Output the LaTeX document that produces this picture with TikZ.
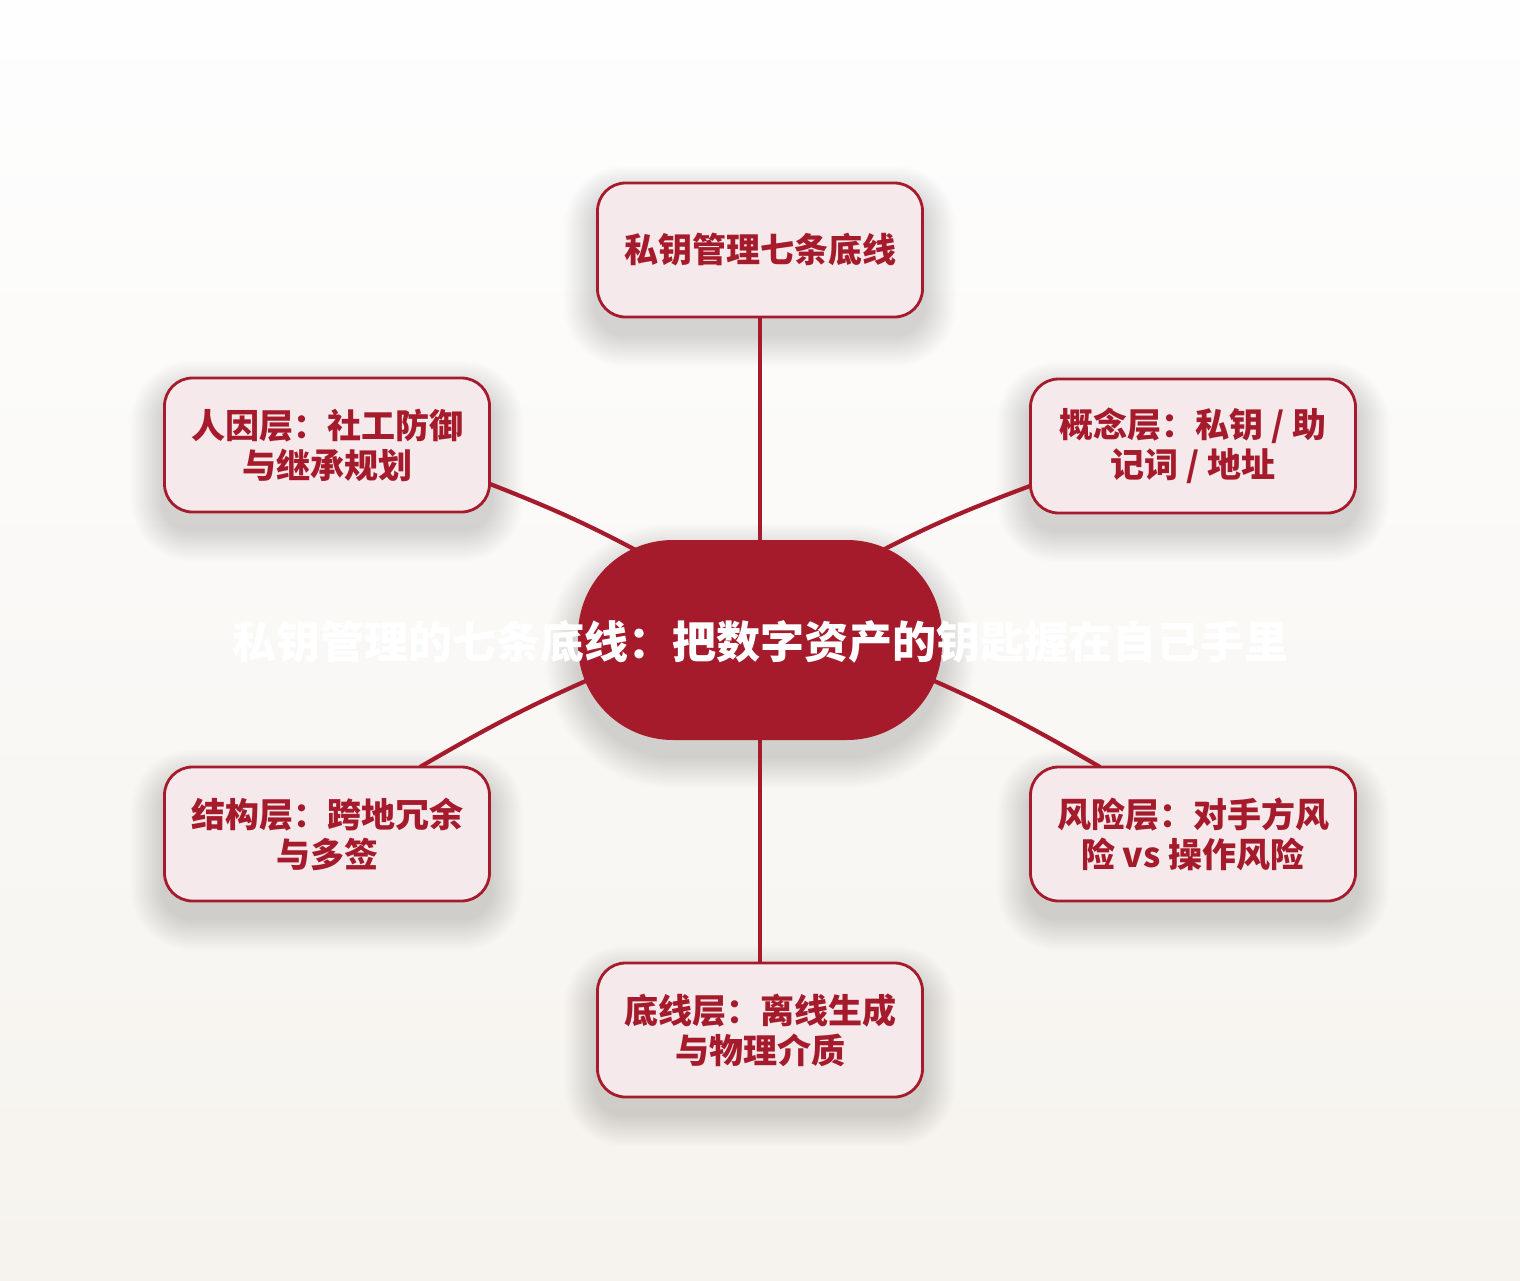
\documentclass[tikz,border=0pt]{standalone}
\usepackage{fontspec}
\newfontfamily\cjk{Noto Sans CJK SC}
\usetikzlibrary{calc}
\definecolor{deep}{HTML}{A51B2B}
\definecolor{pale}{HTML}{F5E9EC}
\definecolor{bgtop}{HTML}{FEFEFE}
\definecolor{bgbot}{HTML}{F6F3EE}
\pgfdeclarelayer{shad}\pgfdeclarelayer{lines}\pgfsetlayers{shad,lines,main}
\tikzset{
 leaf/.style={draw=deep, line width=2.8pt, fill=pale, rounded corners=28pt,
   minimum width=325pt, minimum height=134pt, inner sep=0pt, align=center,
   text=deep, font=\cjk\bfseries\fontsize{34pt}{40pt}\selectfont},
 hub/.style={fill=deep, rounded corners=95pt, minimum width=364pt,
   minimum height=200pt, inner sep=0pt},
 hubtext/.style={text=white, inner sep=0pt, font=\cjk\bfseries\fontsize{44pt}{50pt}\selectfont},
 link/.style={draw=deep, line width=4.2pt},
}
\newcommand\dropshade[2]{%
 \begin{pgfonlayer}{shad}
 \foreach \k in {1,...,20}{
   \fill[black, opacity=0.008, rounded corners={#2+\k*1.6pt}]
     ($(#1.south west)+(-\k*1.6pt,-\k*1.6pt-16pt)$) rectangle
     ($(#1.north east)+(\k*1.6pt,\k*1.6pt-16pt)$);
 }
 \end{pgfonlayer}}
\begin{document}
\begin{tikzpicture}[x=1pt,y=-1pt]
\useasboundingbox (0,0) rectangle (1520,1280);
\begin{pgfonlayer}{shad}
\shade[top color=bgtop, bottom color=bgbot] (0,0) rectangle (1520,1280);
\end{pgfonlayer}
\node[hub] (c) at (760,640) {};
\node[hubtext] (ct) at (760,642) {私钥管理的七条底线：把数字资产的钥匙握在自己手里};
\node[leaf] (t)  at (760,250)  {私钥管理七条底线};
\node[leaf] (tr) at (1193,446) {概念层：私钥 / 助\\记词 / 地址};
\node[leaf] (tl) at (327,445)  {人因层：社工防御\\与继承规划};
\node[leaf] (bl) at (327,834)  {结构层：跨地冗余\\与多签};
\node[leaf] (br) at (1193,834) {风险层：对手方风\\险 vs 操作风险};
\node[leaf] (b)  at (760,1030) {底线层：离线生成\\与物理介质};
\dropshade{c}{95pt}
\foreach \n in {t,tr,tl,bl,br,b}{\dropshade{\n}{28pt}}
\begin{pgfonlayer}{lines}
\draw[link] (t.south) -- (c.north);
\draw[link] (b.north) -- (c.south);
\draw[link] ($(tl.center)+(163,39)$) to[bend left=4] ($(c.center)+(-88,-70)$);
\draw[link] ($(tr.center)+(-163,40)$) to[bend right=4] ($(c.center)+(85,-70)$);
\draw[link] ($(bl.center)+(93,-67)$) to[bend left=4] ($(c.center)+(-120,18)$);
\draw[link] ($(br.center)+(-93,-67)$) to[bend right=4] ($(c.center)+(120,18)$);
\end{pgfonlayer}
\end{tikzpicture}
\end{document}
